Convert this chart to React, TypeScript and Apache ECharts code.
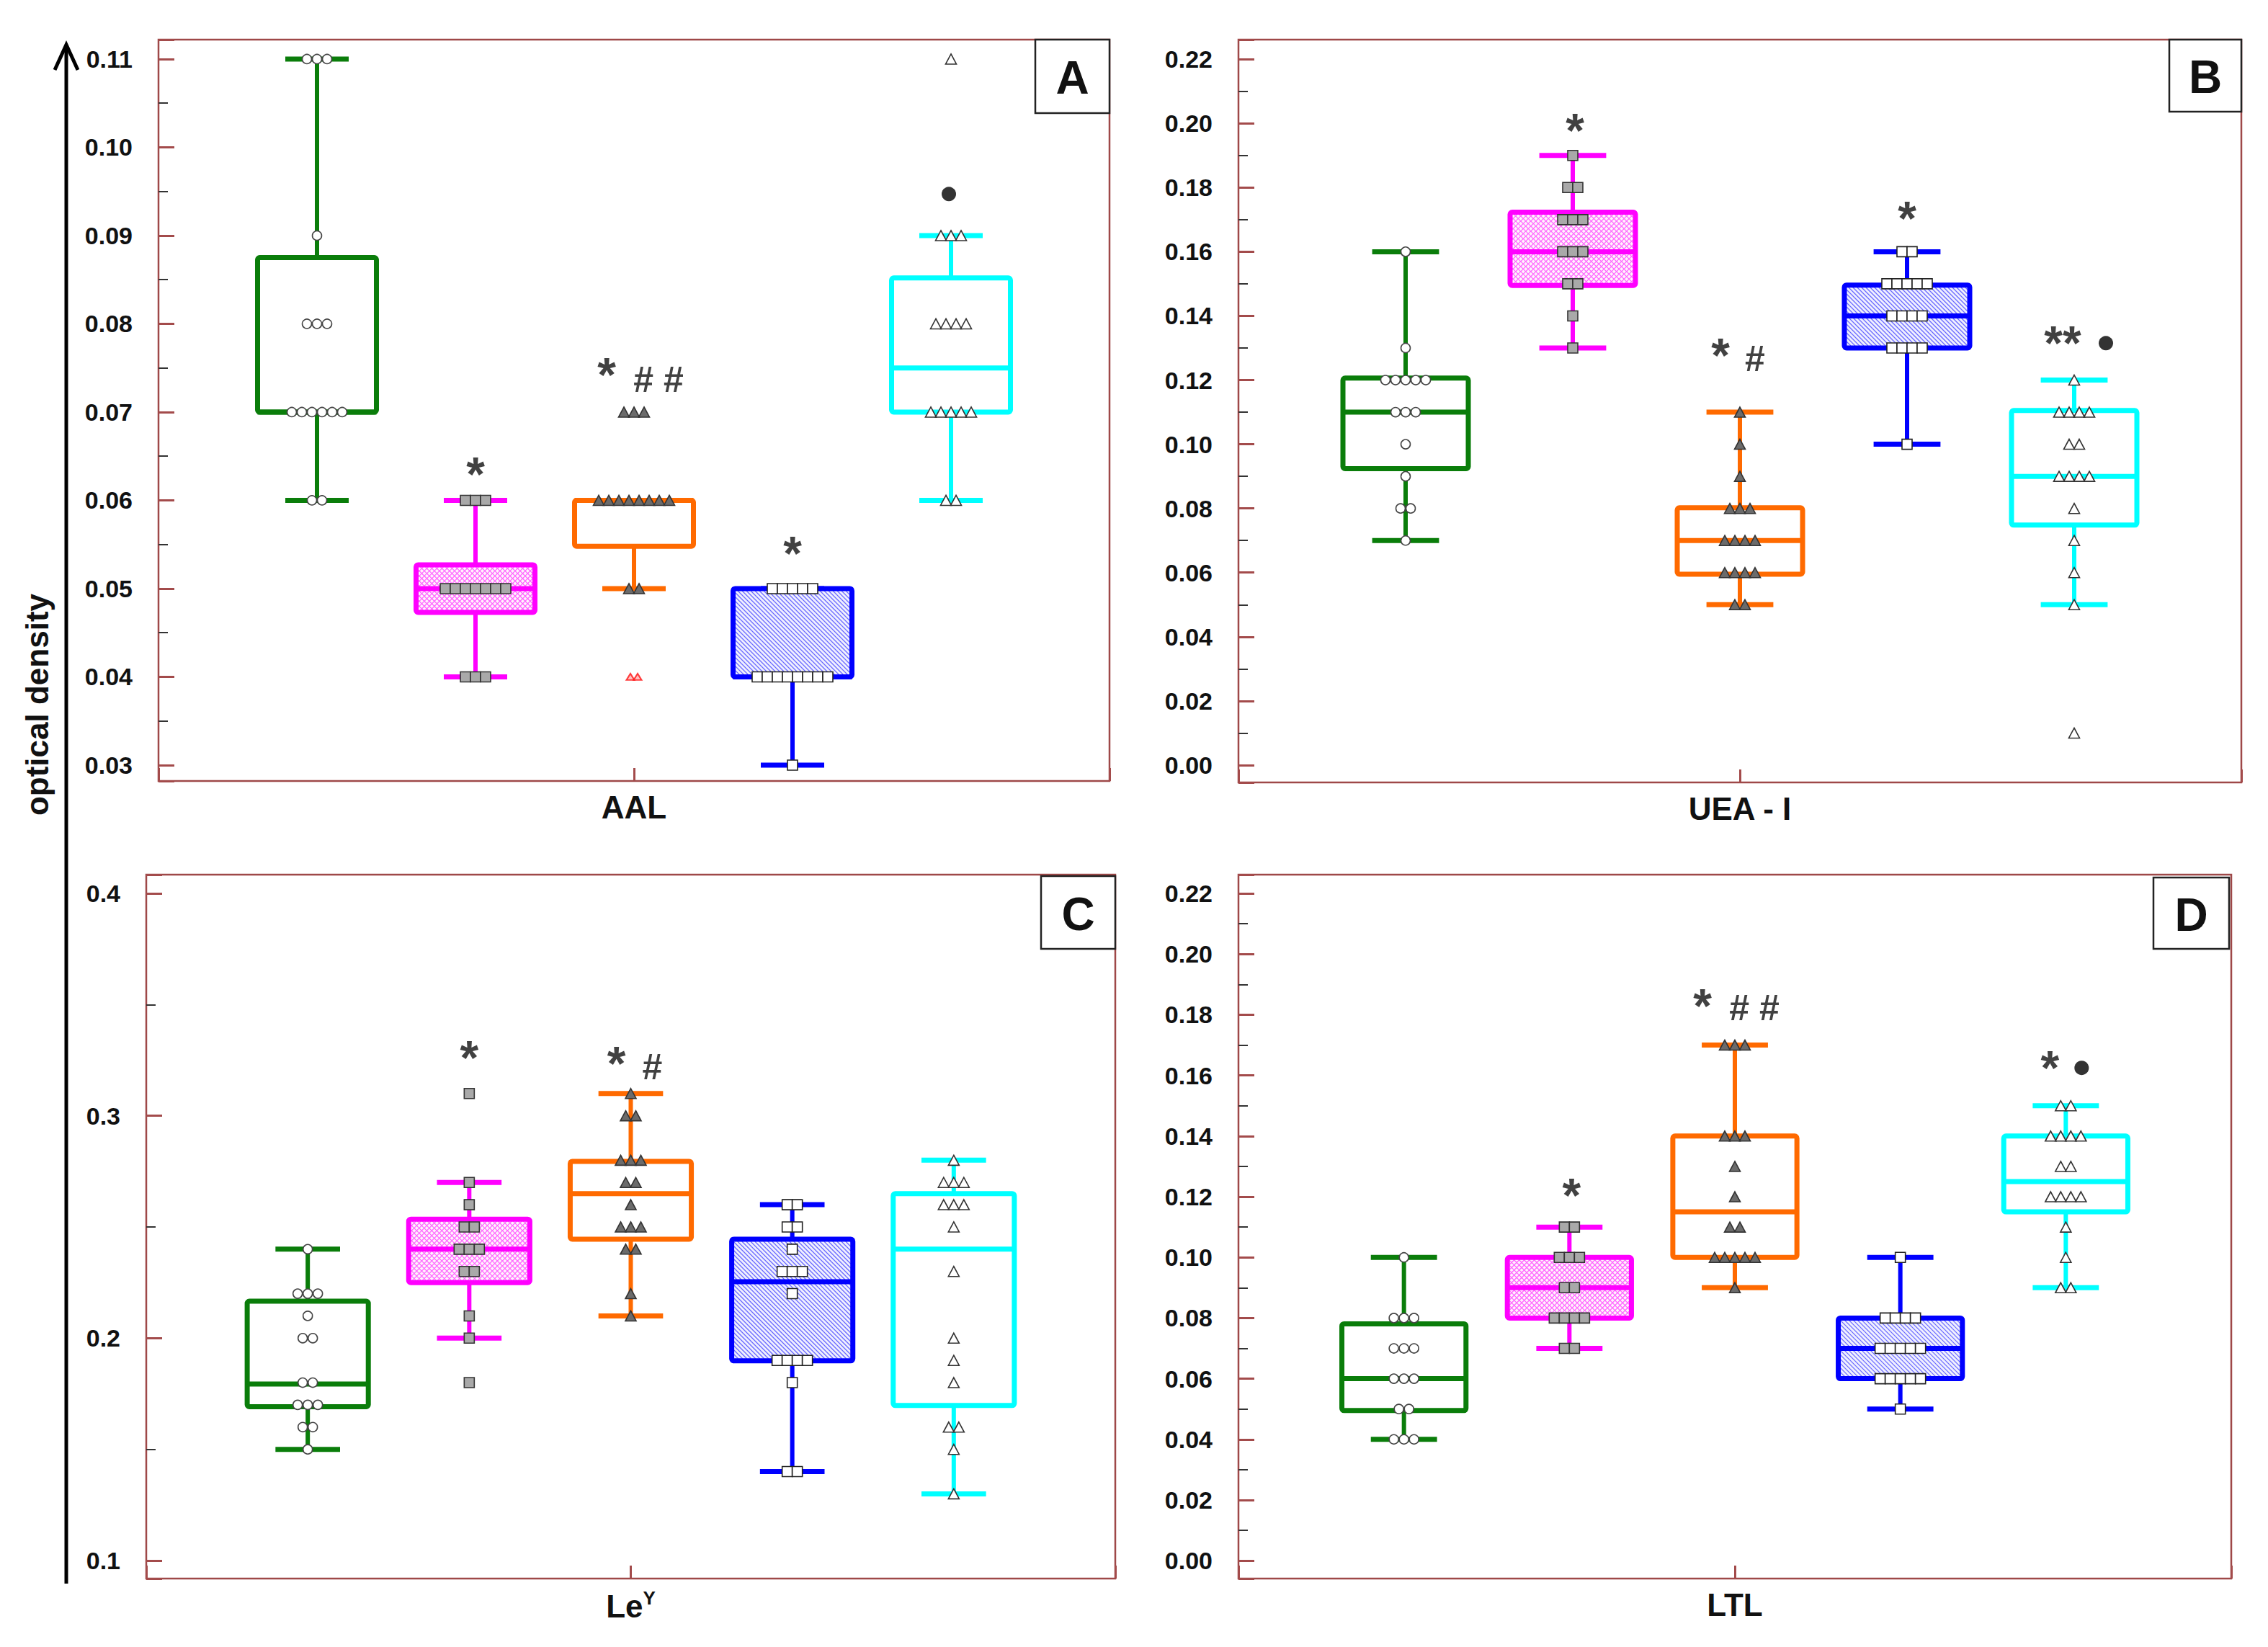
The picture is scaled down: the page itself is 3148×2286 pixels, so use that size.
import React, { useEffect, useRef } from 'react';
import * as echarts from 'echarts';

const FONT = '"Liberation Sans", Arial, Helvetica, sans-serif';

// ---------- Panel A : AAL ----------
const aalGreen = [0.11, 0.11, 0.11, 0.09, 0.08, 0.08, 0.08, 0.07, 0.07, 0.07, 0.07, 0.07, 0.07, 0.06, 0.06];
const aalMagenta = [0.06, 0.06, 0.06, 0.05, 0.05, 0.05, 0.05, 0.05, 0.05, 0.05, 0.04, 0.04, 0.04];
const aalOrange = [0.07, 0.07, 0.07, 0.06, 0.06, 0.06, 0.06, 0.06, 0.06, 0.06, 0.06, 0.05, 0.05];
const aalBlue = [0.05, 0.05, 0.05, 0.05, 0.05, 0.04, 0.04, 0.04, 0.04, 0.04, 0.04, 0.04, 0.04, 0.03];
const aalCyan = [0.11, 0.09, 0.09, 0.09, 0.08, 0.08, 0.08, 0.08, 0.07, 0.07, 0.07, 0.07, 0.07, 0.06, 0.06];
const aalRed = [0.04, 0.04];
// [low whisker, q1, median, q3, high whisker]
const aalBoxes = [
  [0.06, 0.07, 0.07, 0.0875, 0.11],
  [0.04, 0.0473, 0.05, 0.0527, 0.06],
  [0.05, 0.0548, 0.06, 0.06, 0.06],
  [0.03, 0.04, 0.04, 0.05, 0.05],
  [0.06, 0.07, 0.075, 0.0852, 0.09],
];
const aalMarks = [[2, 0.0641, '*', 0], [3, 0.0754, '*', -38], [3, 0.0737, '# #', 34], [4, 0.0551, '*', 0]];
const aalDots = [[5, 0.0947, -3]];

// ---------- Panel B : UEA - I ----------
const ueaGreen = [0.16, 0.13, 0.12, 0.12, 0.12, 0.12, 0.12, 0.11, 0.11, 0.11, 0.10, 0.09, 0.08, 0.08, 0.07];
const ueaMagenta = [0.19, 0.18, 0.18, 0.17, 0.17, 0.17, 0.16, 0.16, 0.16, 0.15, 0.15, 0.14, 0.13];
const ueaOrange = [0.11, 0.10, 0.09, 0.08, 0.08, 0.08, 0.07, 0.07, 0.07, 0.07, 0.06, 0.06, 0.06, 0.06, 0.05, 0.05];
const ueaBlue = [0.16, 0.16, 0.15, 0.15, 0.15, 0.15, 0.15, 0.14, 0.14, 0.14, 0.14, 0.13, 0.13, 0.13, 0.13, 0.10];
const ueaCyan = [0.12, 0.11, 0.11, 0.11, 0.11, 0.10, 0.10, 0.09, 0.09, 0.09, 0.09, 0.08, 0.07, 0.06, 0.05, 0.01];
const ueaBoxes = [
  [0.07, 0.0924, 0.11, 0.1206, 0.16],
  [0.13, 0.1495, 0.16, 0.1723, 0.19],
  [0.05, 0.0595, 0.07, 0.0802, 0.11],
  [0.10, 0.13, 0.14, 0.1496, 0.16],
  [0.05, 0.0748, 0.09, 0.1105, 0.12],
];
const ueaMarks = [[2, 0.2009, '*', 3], [3, 0.1309, '*', -27], [3, 0.1266, '#', 21], [4, 0.1736, '*', 0], [5, 0.1347, '**', -16]];
const ueaDots = [[5, 0.1315, 44]];

// ---------- Panel C : LeY ----------
const leyGreen = [0.24, 0.22, 0.22, 0.22, 0.21, 0.20, 0.20, 0.18, 0.18, 0.17, 0.17, 0.17, 0.16, 0.16, 0.15];
const leyMagenta = [0.31, 0.27, 0.26, 0.25, 0.25, 0.24, 0.24, 0.24, 0.23, 0.23, 0.21, 0.20, 0.18];
const leyOrange = [0.31, 0.30, 0.30, 0.28, 0.28, 0.28, 0.27, 0.27, 0.26, 0.25, 0.25, 0.25, 0.24, 0.24, 0.22, 0.21];
const leyBlue = [0.26, 0.26, 0.25, 0.25, 0.24, 0.23, 0.23, 0.23, 0.22, 0.19, 0.19, 0.19, 0.19, 0.18, 0.14, 0.14];
const leyCyan = [0.28, 0.27, 0.27, 0.27, 0.26, 0.26, 0.26, 0.25, 0.23, 0.20, 0.19, 0.18, 0.16, 0.16, 0.15, 0.13];
const leyBoxes = [
  [0.15, 0.1692, 0.1794, 0.2166, 0.24],
  [0.20, 0.225, 0.24, 0.2535, 0.27],
  [0.21, 0.2445, 0.265, 0.2795, 0.31],
  [0.14, 0.1898, 0.2254, 0.2445, 0.26],
  [0.13, 0.1697, 0.24, 0.265, 0.28],
];
const leyMarks = [[2, 0.3307, '*', 0], [3, 0.328, '*', -20], [3, 0.322, '#', 30]];
const leyDots: number[][] = [];

// ---------- Panel D : LTL ----------
const ltlGreen = [0.10, 0.08, 0.08, 0.08, 0.07, 0.07, 0.07, 0.06, 0.06, 0.06, 0.05, 0.05, 0.04, 0.04, 0.04];
const ltlMagenta = [0.11, 0.11, 0.10, 0.10, 0.10, 0.09, 0.09, 0.08, 0.08, 0.08, 0.08, 0.07, 0.07];
const ltlOrange = [0.17, 0.17, 0.17, 0.14, 0.14, 0.14, 0.13, 0.12, 0.11, 0.11, 0.10, 0.10, 0.10, 0.10, 0.10, 0.09];
const ltlBlue = [0.10, 0.08, 0.08, 0.08, 0.08, 0.07, 0.07, 0.07, 0.07, 0.07, 0.06, 0.06, 0.06, 0.06, 0.06, 0.05];
const ltlCyan = [0.15, 0.15, 0.14, 0.14, 0.14, 0.14, 0.13, 0.13, 0.12, 0.12, 0.12, 0.12, 0.11, 0.10, 0.09, 0.09];
const ltlBoxes = [
  [0.04, 0.0495, 0.06, 0.0781, 0.10],
  [0.07, 0.08, 0.09, 0.10, 0.11],
  [0.09, 0.10, 0.115, 0.14, 0.17],
  [0.05, 0.06, 0.07, 0.08, 0.10],
  [0.09, 0.115, 0.125, 0.14, 0.15],
];
const ltlMarks = [[2, 0.1238, '*', 3], [3, 0.1863, '*', -45], [3, 0.1822, '# #', 27], [5, 0.1659, '*', -22]];
const ltlDots = [[5, 0.1625, 22]];

// ---------- styles / layout ----------
const GROUP_STYLE = [
  { color: '#0a7d0a', fill: '#ffffff', hatch: 0, hatchColor: '' },
  { color: '#ff00ff', fill: '#fff2fd', hatch: 2, hatchColor: '#ff66ff' },
  { color: '#ff6a00', fill: '#ffffff', hatch: 0, hatchColor: '' },
  { color: '#0000ff', fill: '#f0f0ff', hatch: 1, hatchColor: '#6a6aff' },
  { color: '#00ffff', fill: '#ffffff', hatch: 0, hatchColor: '' },
];
const MARKERS = [
  { symbol: 'circle', size: 13, fill: '#ffffff', border: '#444444' },
  { symbol: 'rect', size: 14, fill: '#a9a9a9', border: '#333333' },
  { symbol: 'triangle', size: [15, 14], fill: '#6b6b6b', border: '#333333' },
  { symbol: 'rect', size: 14, fill: '#ffffff', border: '#222222' },
  { symbol: 'triangle', size: [15, 14], fill: '#ffffff', border: '#333333' },
];
const BOX_WIDTH = 0.75;
const CAP_WIDTH = 0.4;
const POINT_STEP = 14;

const panels = [
  {
    name: 'AAL', letter: 'A', boxes: aalBoxes, points: [aalGreen, aalMagenta, aalOrange, aalBlue, aalCyan],
    marks: aalMarks, dots: aalDots, yMin: 0.0282, yMax: 0.1122, interval: 0.01, decimals: 2,
    grid: { left: 220, top: 55, width: 1320, height: 1029 }, letterBox: [1437, 55, 103, 102],
  },
  {
    name: 'UEA - I', letter: 'B', boxes: ueaBoxes, points: [ueaGreen, ueaMagenta, ueaOrange, ueaBlue, ueaCyan],
    marks: ueaMarks, dots: ueaDots, yMin: -0.0054, yMax: 0.2261, interval: 0.02, decimals: 2,
    grid: { left: 1719, top: 55, width: 1392, height: 1031 }, letterBox: [3011, 55, 100, 100],
  },
  {
    name: 'Le{sup|Y}', letter: 'C', boxes: leyBoxes, points: [leyGreen, leyMagenta, leyOrange, leyBlue, leyCyan],
    marks: leyMarks, dots: leyDots, yMin: 0.0919, yMax: 0.4084, interval: 0.1, decimals: 1,
    grid: { left: 203, top: 1214, width: 1345, height: 977 }, letterBox: [1445, 1216, 103, 101],
  },
  {
    name: 'LTL', letter: 'D', boxes: ltlBoxes, points: [ltlGreen, ltlMagenta, ltlOrange, ltlBlue, ltlCyan],
    marks: ltlMarks, dots: ltlDots, yMin: -0.0059, yMax: 0.2262, interval: 0.02, decimals: 2,
    grid: { left: 1719, top: 1214, width: 1378, height: 977 }, letterBox: [2989, 1218, 105, 99],
  },
];

function layoutPoints(values: number[], x: number, step: number) {
  const counts: Record<string, number> = {};
  values.forEach((v) => {
    const k = v.toFixed(4);
    counts[k] = (counts[k] || 0) + 1;
  });
  const seen: Record<string, number> = {};
  return values.map((v) => {
    const k = v.toFixed(4);
    const i = seen[k] || 0;
    seen[k] = i + 1;
    const n = counts[k];
    return { value: [x, v], symbolOffset: [(i - (n - 1) / 2) * step, 0] };
  });
}

function hatchLines(x0: number, y0: number, x1: number, y1: number, spacing: number, dir: number) {
  const out: number[][] = [];
  if (dir === 1) {
    for (let c = x0 - y1; c <= x1 - y0; c += spacing) {
      const ya = Math.max(y0, x0 - c);
      const yb = Math.min(y1, x1 - c);
      if (yb > ya) out.push([ya + c, ya, yb + c, yb]);
    }
  } else {
    for (let c = x0 + y0; c <= x1 + y1; c += spacing) {
      const ya = Math.max(y0, c - x1);
      const yb = Math.min(y1, c - x0);
      if (yb > ya) out.push([c - ya, ya, c - yb, yb]);
    }
  }
  return out;
}

function renderBox(params: any, api: any) {
  const k = api.value(0);
  const st = GROUP_STYLE[k - 1];
  const pLow = api.coord([k, api.value(1)]);
  const pQ1 = api.coord([k, api.value(2)]);
  const pMed = api.coord([k, api.value(3)]);
  const pQ3 = api.coord([k, api.value(4)]);
  const pHigh = api.coord([k, api.value(5)]);
  const cx = pMed[0];
  const half = api.size([BOX_WIDTH, 0])[0] / 2;
  const capHalf = api.size([CAP_WIDTH, 0])[0] / 2;
  const children: any[] = [];
  const line = (x1: number, y1: number, x2: number, y2: number, w: number, color: string) => ({
    type: 'line',
    shape: { x1, y1, x2, y2 },
    style: { stroke: color, lineWidth: w },
  });
  children.push(line(cx, pHigh[1], cx, pQ3[1], 6, st.color));
  children.push(line(cx, pQ1[1], cx, pLow[1], 6, st.color));
  children.push(line(cx - capHalf, pHigh[1], cx + capHalf, pHigh[1], 7, st.color));
  children.push(line(cx - capHalf, pLow[1], cx + capHalf, pLow[1], 7, st.color));
  const bx = cx - half;
  const by = pQ3[1];
  const bw = 2 * half;
  const bh = pQ1[1] - pQ3[1];
  children.push({ type: 'rect', shape: { x: bx, y: by, width: bw, height: bh }, style: { fill: st.fill, stroke: null } });
  if (st.hatch) {
    const dirs = st.hatch === 2 ? [1, -1] : [1];
    dirs.forEach((d) => {
      hatchLines(bx + 3, by + 3, bx + bw - 3, by + bh - 3, st.hatch === 2 ? 7 : 6, d).forEach((s) => {
        children.push(line(s[0], s[1], s[2], s[3], 1.3, st.hatchColor));
      });
    });
  }
  children.push({
    type: 'rect',
    shape: { x: bx, y: by, width: bw, height: bh, r: 3 },
    style: { fill: null, stroke: st.color, lineWidth: 7 },
  });
  children.push(line(bx, pMed[1], bx + bw, pMed[1], 7, st.color));
  return { type: 'group', children };
}

const MARK_SIZE: Record<string, number> = { '*': 66, '**': 66, '#': 50, '# #': 50 };
const MARK_DY: Record<string, number> = { '*': 14, '**': 14, '#': 0, '# #': 0 };

function buildOption() {
  const grid: any[] = [];
  const xAxis: any[] = [];
  const yAxis: any[] = [];
  const series: any[] = [];
  const graphic: any[] = [];

  panels.forEach((p, i) => {
    grid.push({
      ...p.grid,
      show: true,
      borderColor: '#9e4848',
      borderWidth: 2.5,
      backgroundColor: 'transparent',
      outerBoundsMode: 'none',
    });
    xAxis.push({
      type: 'value',
      gridIndex: i,
      position: 'bottom',
      min: 0,
      max: 6,
      interval: 3,
      axisLine: { show: false, onZero: false },
      splitLine: { show: false },
      axisLabel: { show: false },
      axisTick: { show: true, inside: true, length: 18, lineStyle: { color: '#a34b4b', width: 3 } },
      name: p.name,
      nameLocation: 'middle',
      nameGap: 14,
      nameTextStyle: {
        fontFamily: FONT,
        fontWeight: 'bold',
        fontSize: 44,
        color: '#111',
        rich: {
          sup: { fontFamily: FONT, fontWeight: 'bold', fontSize: 26, color: '#111', verticalAlign: 'top', padding: [0, 0, 22, 0] },
        },
      },
    });
    const iv = p.interval;
    yAxis.push({
      type: 'value',
      gridIndex: i,
      position: 'left',
      min: p.yMin,
      max: p.yMax,
      minInterval: iv,
      maxInterval: iv,
      splitNumber: Math.round((p.yMax - p.yMin) / iv),
      axisLine: { show: false, onZero: false },
      splitLine: { show: false },
      axisTick: { show: true, inside: true, length: 22, lineStyle: { color: '#a34b4b', width: 3 } },
      minorTick: { show: true, splitNumber: 2, length: 13, lineStyle: { color: '#333', width: 2 } },
      axisLabel: {
        show: true,
        margin: 36,
        showMinLabel: true,
        showMaxLabel: true,
        fontFamily: FONT,
        fontWeight: 'bold',
        fontSize: 34,
        color: '#111',
        formatter: (v: number) => {
          const r = v / iv;
          if (Math.abs(r - Math.round(r)) > 1e-6) return '';
          return (Math.round(r) * iv).toFixed(p.decimals);
        },
      },
    });

    series.push({
      type: 'custom',
      xAxisIndex: i,
      yAxisIndex: i,
      renderItem: renderBox,
      data: p.boxes.map((b, k) => [k + 1, ...b]),
      encode: { x: 0, y: [1, 2, 3, 4, 5] },
      clip: false,
      silent: true,
      z: 2,
    });

    p.points.forEach((vals, k) => {
      const m = MARKERS[k];
      series.push({
        type: 'scatter',
        xAxisIndex: i,
        yAxisIndex: i,
        symbol: m.symbol,
        symbolSize: m.size,
        itemStyle: { color: m.fill, borderColor: m.border, borderWidth: 1.6, opacity: 1 },
        data: layoutPoints(vals, k + 1, POINT_STEP),
        silent: true,
        z: 3,
      });
    });

    if (i === 0) {
      series.push({
        type: 'scatter',
        xAxisIndex: i,
        yAxisIndex: i,
        symbol: 'triangle',
        symbolSize: [11, 9],
        itemStyle: { color: '#ffb0b0', borderColor: '#ff1010', borderWidth: 2 },
        data: layoutPoints(aalRed, 3, 10),
        silent: true,
        z: 3,
      });
    }

    series.push({
      type: 'scatter',
      xAxisIndex: i,
      yAxisIndex: i,
      symbol: 'circle',
      symbolSize: 1,
      itemStyle: { color: 'rgba(0,0,0,0)' },
      label: { show: true, position: 'inside', color: '#111', fontWeight: 'bold', fontFamily: FONT },
      data: p.marks.map((m: any) => ({
        value: [m[0], m[1]],
        label: { formatter: m[2], offset: [m[3], MARK_DY[m[2]]], fontSize: MARK_SIZE[m[2]] },
      })),
      silent: true,
      z: 4,
    });

    if (p.dots.length) {
      series.push({
        type: 'scatter',
        xAxisIndex: i,
        yAxisIndex: i,
        symbol: 'circle',
        symbolSize: 20,
        itemStyle: { color: '#000' },
        data: p.dots.map((d) => ({ value: [d[0], d[1]], symbolOffset: [d[2], 0] })),
        silent: true,
        z: 4,
      });
    }

    const [lx, ly, lw, lh] = p.letterBox;
    graphic.push({
      type: 'group',
      z: 100,
      children: [
        { type: 'rect', shape: { x: lx, y: ly, width: lw, height: lh }, style: { fill: '#fff', stroke: '#222', lineWidth: 2.5 } },
        {
          type: 'text',
          x: lx + lw / 2,
          y: ly + lh / 2 + 2,
          style: {
            text: p.letter,
            font: `bold 64px ${FONT}`,
            fill: '#111',
            textAlign: 'center',
            textVerticalAlign: 'middle',
            align: 'center',
            verticalAlign: 'middle',
          },
        },
      ],
    });
  });

  // left arrow + y title
  graphic.push({ type: 'line', shape: { x1: 92, y1: 64, x2: 92, y2: 2198 }, style: { stroke: '#000', lineWidth: 5 } });
  graphic.push({
    type: 'polyline',
    shape: { points: [[76, 97], [92, 62], [108, 97]] },
    style: { stroke: '#000', lineWidth: 5, fill: null },
  });
  graphic.push({
    type: 'text',
    x: 51,
    y: 978,
    rotation: Math.PI / 2,
    style: {
      text: 'optical density',
      font: `bold 44px ${FONT}`,
      fill: '#111',
      textAlign: 'center',
      textVerticalAlign: 'middle',
      align: 'center',
      verticalAlign: 'middle',
    },
  });

  return {
    animation: false,
    backgroundColor: '#ffffff',
    grid,
    xAxis,
    yAxis,
    series,
    graphic,
  };
}

export default function App() {
  const ref = useRef<HTMLDivElement>(null);
  useEffect(() => {
    if (!ref.current) return;
    const chart = echarts.init(ref.current, null, { renderer: 'svg' });
    chart.setOption(buildOption() as any);
    return () => chart.dispose();
  }, []);
  return (
    <div
      ref={ref}
      style={{ position: 'absolute', left: 0, top: 0, width: 3148, height: 2286, background: '#fff' }}
    />
  );
}
